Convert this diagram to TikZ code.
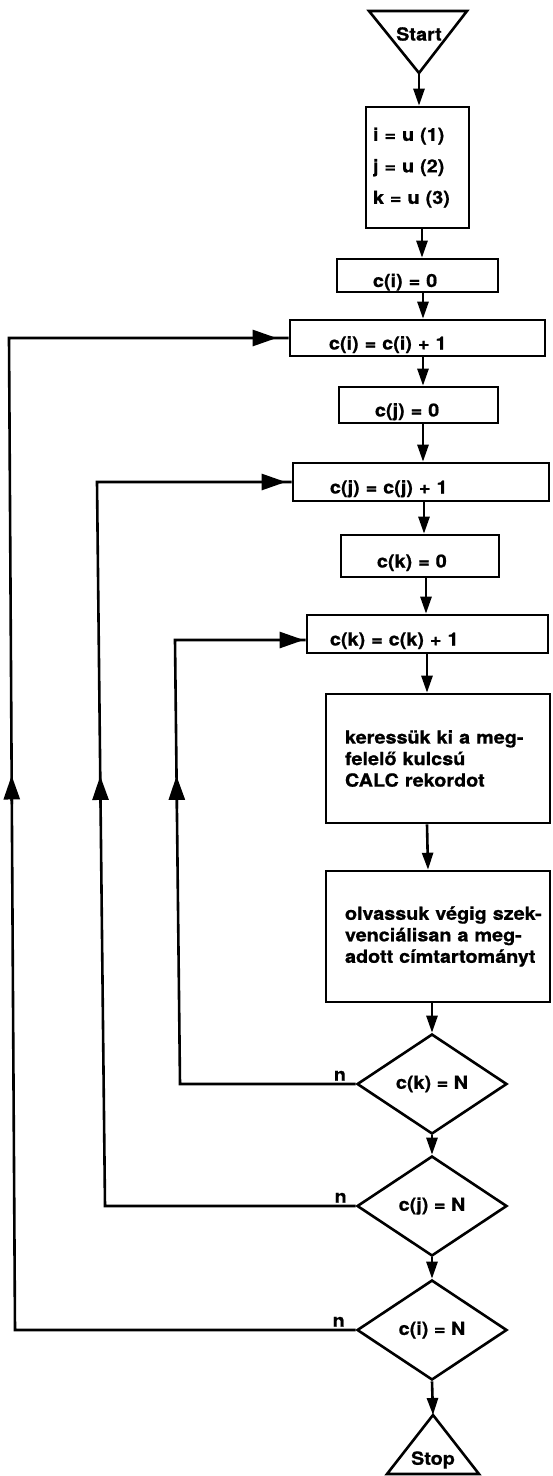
\documentclass[tikz,border=0pt]{standalone}
\usepackage{fontspec}
\newfontfamily\lblfont{texgyreheros}[Extension=.otf, UprightFont=*-bold, FakeStretch=1.1, FakeBold=0.8]
\usetikzlibrary{arrows.meta,shapes.geometric,calc}
\setlength{\parindent}{0pt}
\begin{document}
\begin{tikzpicture}[x=1pt,y=-1pt,
  every node/.style={font=\fontsize{18}{21.5}\selectfont\lblfont},
  lw/.style={line width=2.6pt},
  box/.style={draw, lw, rectangle, inner xsep=0pt, inner ysep=0pt, align=left, text height=24pt, text depth=1pt},
  bigbox/.style={draw, lw, rectangle, inner xsep=0pt, inner ysep=0pt, align=left},
  dia/.style={draw, lw, diamond, inner sep=0pt, minimum width=150pt, minimum height=100pt},
  flow/.style={lw, -{Triangle[length=17pt,width=11pt]}},
  back/.style={lw},
  head/.style={lw, -{Triangle[length=24pt,width=16pt]}},
  nlab/.style={above, inner sep=0pt, yshift=2pt}
]
\useasboundingbox (0,0) rectangle (552,1476);

% Start
\draw[lw, line join=miter] (369,11) -- (467,11) -- (419,73) -- cycle;
\node (start) at (419,34) {Start};
\coordinate (sapex) at (419,73);

% boxes
\node[bigbox, text width=103pt, minimum height=121pt] (init) at (417.5,167.5)
  {\hspace*{7pt}i = u (1)\\[10pt]\hspace*{7pt}j = u (2)\\[10pt]\hspace*{7pt}k = u (3)};
\node[box, text width=161pt, minimum height=33pt] (ci0) at (417.5,275.5) {\hspace*{36pt}c(i) = 0};
\node[box, text width=255pt, minimum height=36pt] (ci1) at (417.5,338) {\hspace*{39pt}c(i) = c(i) + 1};
\node[box, text width=159pt, minimum height=36pt] (cj0) at (418.5,405) {\hspace*{36pt}c(j) = 0};
\node[box, text width=256pt, minimum height=38pt] (cj1) at (421,482) {\hspace*{37pt}c(j) = c(j) + 1};
\node[box, text width=158pt, minimum height=42pt] (ck0) at (420,556) {\hspace*{36pt}c(k) = 0};
\node[box, text width=241pt, minimum height=38pt] (ck1) at (427.5,634) {\hspace*{23pt}c(k) = c(k) + 1};
\node[bigbox, text width=224pt, minimum height=129pt] (ker) at (438,758.5)
  {\hspace*{19pt}keressük ki a meg-\\\hspace*{19pt}felelő kulcsú\\\hspace*{19pt}CALC rekordot};
\node[bigbox, text width=224pt, minimum height=131pt] (olv) at (438,936.5)
  {\hspace*{19pt}olvassuk végig szek-\\\hspace*{19pt}venciálisan a meg-\\\hspace*{19pt}adott címtartományt};

% decisions
\node[dia] (dk) at (432,1084) {c(k) = N};
\node[dia] (dj) at (432,1206) {c(j) = N};
\node[dia] (di) at (432,1330) {c(i) = N};

% Stop
\draw[lw, line join=miter] (387,1474) -- (479,1474) -- (433,1415) -- cycle;
\node (stop) at (433,1460) {Stop};
\coordinate (stapex) at (433,1415);

% main flow
\draw[flow] (sapex) -- (sapex |- init.north);
\draw[flow] ([xshift=4.5pt]init.south) -- ([xshift=4.5pt]ci0.north);
\draw[flow] ([xshift=5.5pt]ci0.south) -- ([xshift=5.5pt]ci1.north);
\draw[flow] ([xshift=5.5pt]ci1.south) -- ([xshift=4.5pt]cj0.north);
\draw[flow] ([xshift=4.5pt]cj0.south) -- ([xshift=2pt]cj1.north);
\draw[flow] ([xshift=3pt]cj1.south) -- ([xshift=4pt]ck0.north);
\draw[flow] ([xshift=6pt]ck0.south) -- ([xshift=-1.5pt]ck1.north);
\draw[flow] ([xshift=-0.5pt]ck1.south) -- ([xshift=-11pt]ker.north);
\draw[flow] ([xshift=-11pt]ker.south) -- ([xshift=-10pt]olv.north);
\draw[flow] ([xshift=-6pt]olv.south) -- (dk.north);
\draw[flow] (dk.south) -- (dj.north);
\draw[flow] (dj.south) -- (di.north);
\draw[flow] (di.south) -- (stapex);

% loop corners
\coordinate (iB) at (180,1084);
\coordinate (iT) at (175,640);
\coordinate (mB) at (105,1206);
\coordinate (mT) at (97,482);
\coordinate (oB) at (15,1330);
\coordinate (oT) at (9,338);

% loops back
\draw[back, line join=miter] (dk.west) -- node[nlab, pos=0.09] {n} (iB) -- (iT) -- ([yshift=-6pt]ck1.west);
\draw[back, line join=miter] (dj.west) -- node[nlab, pos=0.06] {n} (mB) -- (mT) -- (cj1.west);
\draw[back, line join=miter] (di.west) -- node[nlab, pos=0.05] {n} (oB) -- (oT) -- (ci1.west);

% arrowheads on the loops
\draw[head] ($(iB)!0.62!(iT)$) -- ($(iB)!0.694!(iT)$);
\draw[head] ($(mB)!0.55!(mT)$) -- ($(mB)!0.594!(mT)$);
\draw[head] ($(oB)!0.53!(oT)$) -- ($(oB)!0.559!(oT)$);
\draw[head] ($(iT)+(60,0)$) -- ([xshift=-2pt,yshift=-6pt]ck1.west);
\draw[head] ($(mT)+(140,0)$) -- ([xshift=-6pt]cj1.west);
\draw[head] ($(oT)+(200,0)$) -- ([xshift=-12pt]ci1.west);
\end{tikzpicture}
\end{document}
